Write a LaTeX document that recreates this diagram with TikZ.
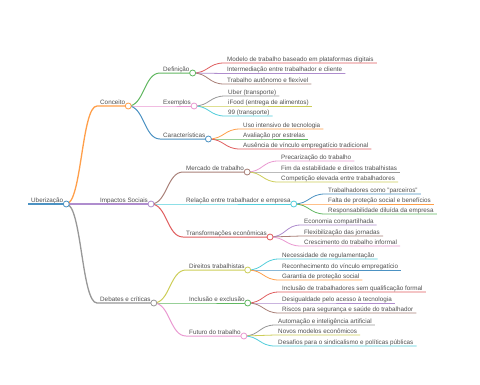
\documentclass[tikz,border=0pt]{standalone}
\usepackage{fontspec}
\setmainfont{Liberation Sans}
\usetikzlibrary{calc}
\definecolor{cblueb}{HTML}{1F77B4}
\definecolor{corangeb}{HTML}{FF7F0E}
\definecolor{cgreenb}{HTML}{2CA02C}
\definecolor{credb}{HTML}{D62728}
\definecolor{cpurpleb}{HTML}{9467BD}
\definecolor{cbrownb}{HTML}{8C564B}
\definecolor{cpinkb}{HTML}{E377C2}
\definecolor{cgrayb}{HTML}{7F7F7F}
\definecolor{coliveb}{HTML}{BCBD22}
\definecolor{ccyanb}{HTML}{17BECF}
\colorlet{cblue}{cblueb!80!white}
\colorlet{corange}{corangeb!75!white}
\colorlet{cgreen}{cgreenb!75!white}
\colorlet{cred}{credb!75!white}
\colorlet{cpurple}{cpurpleb!75!white}
\colorlet{cbrown}{cbrownb!75!white}
\colorlet{cpink}{cpinkb!75!white}
\colorlet{cgray}{cgrayb!80!white}
\colorlet{colive}{coliveb!75!white}
\colorlet{ccyan}{ccyanb!75!white}
\definecolor{txtgray}{HTML}{505050}
\tikzset{
  mmtext/.style={font=\fontsize{6.3pt}{7.5pt}\selectfont, text=txtgray, inner sep=0pt},
  mmdot/.style={fill=white, line width=0.8pt},
}
\newcommand{\mmnode}[7]{%
  \coordinate (#1s) at (#5,#6);
  \node[mmtext, anchor=base west] (#1) at ([xshift=3pt,yshift=2pt]#1s) {#7};
  \path (#1.east |- #1s) ++(3,0) coordinate (#1e);
  \coordinate (#1m) at ($(#2e)!0.5!(#1s)$);
  \draw[#3, line width=#4] (#2e) .. controls (#1m |- #2e) and (#1m |- #1s) .. (#1s) -- (#1e);
}
\newcommand{\mmdot}[2]{\draw[#2, mmdot] (#1e) circle[radius=3pt];}
\begin{document}
\begin{tikzpicture}[x=1pt, y=-1pt]
\useasboundingbox[fill=white] (0,0) rectangle (480,384);
% root
\coordinate (rts) at (28,204);
\node[mmtext, anchor=base west] (rt) at ([xshift=3pt,yshift=2pt]rts) {Uberização};
\path (rt.east |- rts) ++(3,0) coordinate (rte);
\draw[cblue, line width=2pt] (rts) -- (rte);
% depth 1
\mmnode{ca}{rt}{corange}{1.3pt}{97}{106}{Conceito}
\mmnode{cb}{rt}{cpurple}{1.3pt}{97}{204}{Impactos Sociais}
\mmnode{cc}{rt}{cgray}{1.3pt}{97}{303}{Debates e críticas}
% depth 2
\mmnode{da}{ca}{cgreen}{1pt}{160}{73}{Definição}
\mmnode{db}{ca}{cpink}{1pt}{160}{106}{Exemplos}
\mmnode{dc}{ca}{cblue}{1pt}{160}{139}{Características}
\mmnode{dd}{cb}{cbrown}{1pt}{183}{172}{Mercado de trabalho}
\mmnode{de}{cb}{ccyan}{1pt}{183}{204}{Relação entre trabalhador e empresa}
\mmnode{df}{cb}{cred}{1pt}{183}{237}{Transformações econômicas}
\mmnode{dg}{cc}{colive}{1pt}{186}{270}{Direitos trabalhistas}
\mmnode{dh}{cc}{cgreen}{1pt}{186}{303}{Inclusão e exclusão}
\mmnode{di}{cc}{cpink}{1pt}{186}{336}{Futuro do trabalho}
% depth 3
\mmnode{ea1}{da}{cred}{0.8pt}{224}{63}{Modelo de trabalho baseado em plataformas digitais}
\mmnode{ea2}{da}{cpurple}{0.8pt}{224}{73.5}{Intermediação entre trabalhador e cliente}
\mmnode{ea3}{da}{cbrown}{0.8pt}{224}{84}{Trabalho autônomo e flexível}
\mmnode{eb1}{db}{cgray}{0.8pt}{225}{96}{Uber (transporte)}
\mmnode{eb2}{db}{colive}{0.8pt}{225}{106}{iFood (entrega de alimentos)}
\mmnode{eb3}{db}{ccyan}{0.8pt}{225}{116}{99 (transporte)}
\mmnode{ec1}{dc}{corange}{0.8pt}{240}{129}{Uso intensivo de tecnologia}
\mmnode{ec2}{dc}{cgreen}{0.8pt}{240}{139}{Avaliação por estrelas}
\mmnode{ec3}{dc}{cred}{0.8pt}{240}{149}{Ausência de vínculo empregatício tradicional}
\mmnode{ed1}{dd}{cpink}{0.8pt}{278}{161}{Precarização do trabalho}
\mmnode{ed2}{dd}{cgray}{0.8pt}{278}{172}{Fim da estabilidade e direitos trabalhistas}
\mmnode{ed3}{dd}{colive}{0.8pt}{278}{182}{Competição elevada entre trabalhadores}
\mmnode{ee1}{de}{cblue}{0.8pt}{325}{194}{Trabalhadores como "parceiros"}
\mmnode{ee2}{de}{corange}{0.8pt}{325}{204}{Falta de proteção social e benefícios}
\mmnode{ee3}{de}{cgreen}{0.8pt}{325}{214}{Responsabilidade diluída da empresa}
\mmnode{ef1}{df}{cpurple}{0.8pt}{301}{225}{Economia compartilhada}
\mmnode{ef2}{df}{cbrown}{0.8pt}{301}{236}{Flexibilização das jornadas}
\mmnode{ef3}{df}{cpink}{0.8pt}{301}{246}{Crescimento do trabalho informal}
\mmnode{eg1}{dg}{ccyan}{0.8pt}{279}{259}{Necessidade de regulamentação}
\mmnode{eg2}{dg}{cblue}{0.8pt}{279}{270}{Reconhecimento do vínculo empregatício}
\mmnode{eg3}{dg}{corange}{0.8pt}{279}{280}{Garantia de proteção social}
\mmnode{eh1}{dh}{cred}{0.8pt}{279}{292}{Inclusão de trabalhadores sem qualificação formal}
\mmnode{eh2}{dh}{cpurple}{0.8pt}{279}{303}{Desigualdade pelo acesso à tecnologia}
\mmnode{eh3}{dh}{cbrown}{0.8pt}{279}{313}{Riscos para segurança e saúde do trabalhador}
\mmnode{ei1}{di}{cgray}{0.8pt}{275}{325}{Automação e inteligência artificial}
\mmnode{ei2}{di}{colive}{0.8pt}{275}{335}{Novos modelos econômicos}
\mmnode{ei3}{di}{ccyan}{0.8pt}{275}{346}{Desafios para o sindicalismo e políticas públicas}
% circles
\mmdot{rt}{cblue}
\mmdot{ca}{corange}
\mmdot{cb}{cpurple}
\mmdot{cc}{cgray}
\mmdot{da}{cgreen}
\mmdot{db}{cpink}
\mmdot{dc}{cblue}
\mmdot{dd}{cbrown}
\mmdot{de}{ccyan}
\mmdot{df}{cred}
\mmdot{dg}{colive}
\mmdot{dh}{cgreen}
\mmdot{di}{cpink}
\end{tikzpicture}
\end{document}
